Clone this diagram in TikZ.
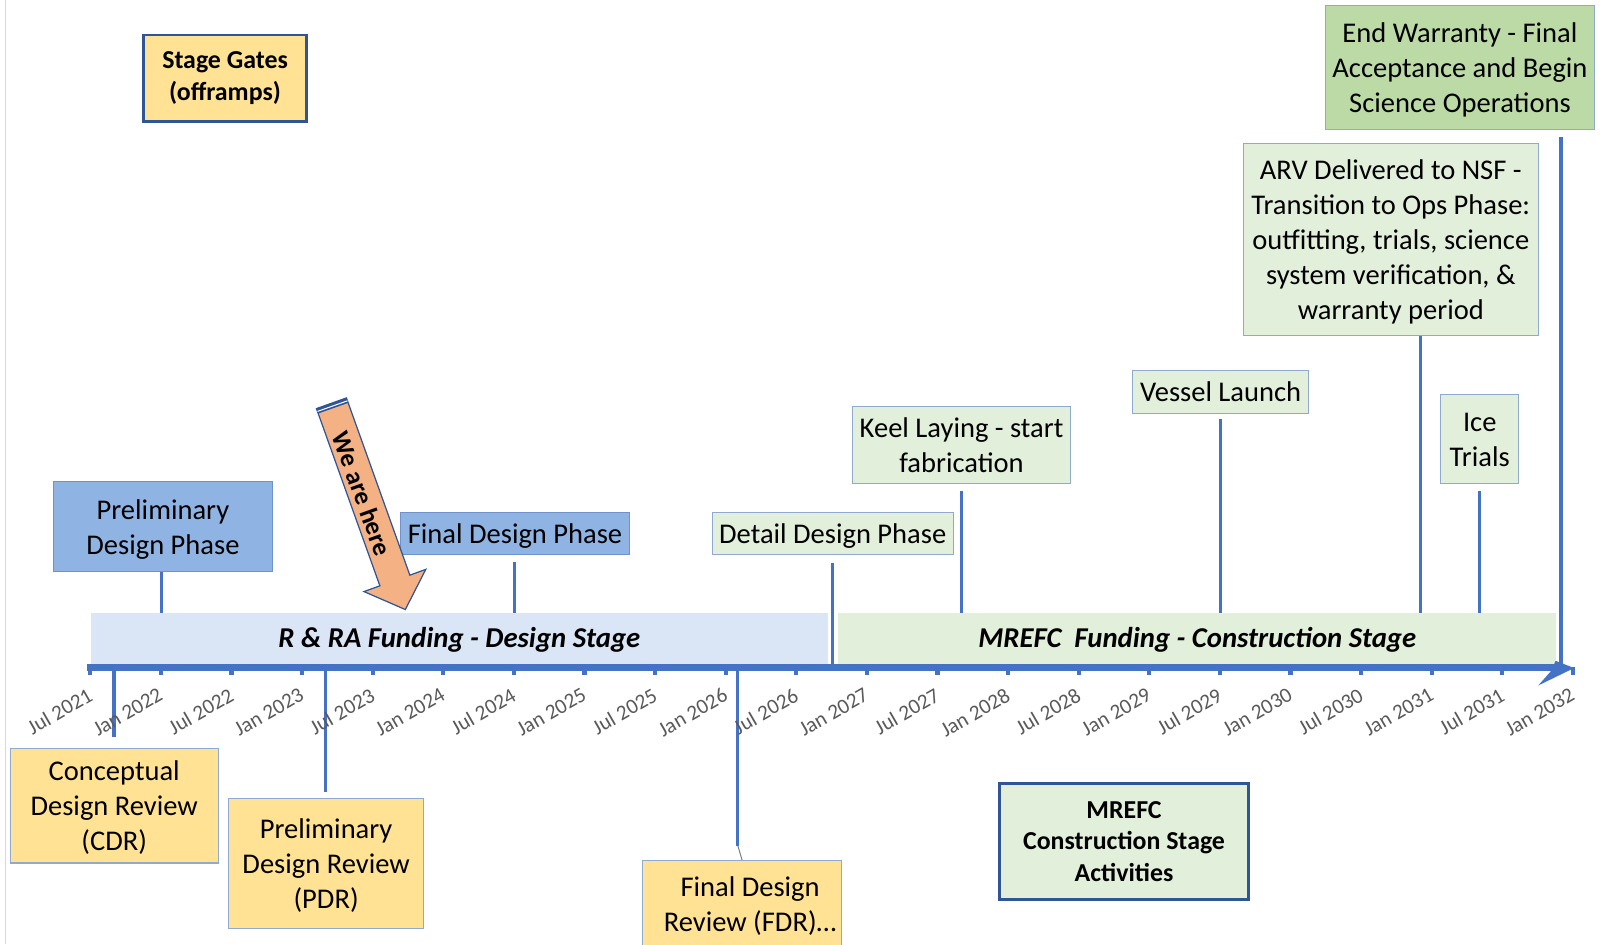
\documentclass[tikz,border=0pt]{standalone}
\usepackage{fontspec}
\setmainfont{Carlito}
\usetikzlibrary{calc}
\definecolor{axisblue}{HTML}{4472C4}
\definecolor{navy}{HTML}{2F5597}
\definecolor{yfill}{HTML}{FFE293}
\definecolor{pblue}{HTML}{8FB4E3}
\definecolor{pbord}{HTML}{6F92CF}
\definecolor{bandblue}{HTML}{DAE5F5}
\definecolor{lgreen}{HTML}{E2EFDA}
\definecolor{dgreen}{HTML}{BBDAA6}
\definecolor{peach}{HTML}{F4B183}
\definecolor{bordc}{HTML}{8FA9CF}
\definecolor{labgray}{HTML}{595959}
\definecolor{edgegray}{HTML}{D9D9D9}
\newcommand{\bxtop}{\rule{0pt}{13.4pt}}
\newcommand{\bxbot}{\rule[-3.6pt]{0pt}{0pt}}
\newcommand{\bdtop}{\rule{0pt}{12pt}}
\newcommand{\bdbot}{\rule[-3.2pt]{0pt}{0pt}}
\tikzset{
  box/.style={draw=bordc, line width=0.5pt, align=center, inner sep=0pt, text=black,
    font=\fontsize{13.9}{17}\selectfont},
  bluebox/.style={box, fill=pblue, draw=pbord},
  greenbox/.style={box, fill=lgreen},
  ybox/.style={box, fill=yfill},
  boldbox/.style={draw=navy, line width=1.3pt, font=\fontsize{12.6}{15.4}\selectfont\bfseries},
  conn/.style={draw=axisblue, line width=1.6pt},
  band/.style={inner sep=0pt, text=black, font=\fontsize{14}{17}\selectfont\bfseries\itshape},
  ticklab/.style={inner sep=0pt, rotate=30, anchor=north east, text=labgray,
    font=\fontsize{10.35}{12}\selectfont},
}
\begin{document}
\begin{tikzpicture}[x=0.5pt,y=-0.5pt]
\useasboundingbox (0,0) rectangle (1568,920);
\clip (0,0) rectangle (1568,920);
% left edge line
\coordinate (e1) at (5.5,0);
\coordinate (e2) at (5.5,920);
\draw[edgegray, line width=0.8pt] (e1) -- (e2);

% legend boxes
\node[ybox, boldbox, minimum width=79.6pt, minimum height=42.25pt] (sg) at (219.3,76.35) {Stage Gates\\(offramps)};
\node[greenbox, boldbox, minimum width=121.2pt, minimum height=56.55pt] (mr) at (1095.4,819.95) {MREFC\\Construction Stage\\Activities};

% boxes above the axis
\node[bluebox, minimum width=106.6pt, minimum height=43.8pt] (pdp) at (158.8,513.2) {\bxtop Preliminary\\Design Phase\bxbot};
\node[bluebox, minimum width=111.6pt, minimum height=20.15pt] (fdp) at (501.9,519.85) {\bxtop Final Design Phase\bxbot};
\node[greenbox, minimum width=117.5pt, minimum height=20.15pt] (ddp) at (811.5,519.85) {\bxtop Detail Design Phase\bxbot};
\node[greenbox, minimum width=106pt, minimum height=37.3pt] (keel) at (937,433.7) {\bxtop Keel Laying - start\\fabrication\bxbot};
\node[greenbox, minimum width=85.5pt, minimum height=20.9pt] (vl) at (1189.5,381.9) {\bxtop Vessel Launch\bxbot};
\node[greenbox, minimum width=38pt, minimum height=43.5pt] (ice) at (1442,427.5) {\bxtop Ice\\Trials\bxbot};
\node[greenbox, minimum width=143.65pt, minimum height=93.4pt] (arv) at (1355.35,233.1) {\bxtop ARV Delivered to NSF -\\Transition to Ops Phase:\\outfitting, trials, science\\system verification, \&\\warranty period\bxbot};
\node[box, fill=dgreen, minimum width=130.75pt, minimum height=60.55pt] (ew) at (1422.75,65.45) {\bxtop End Warranty - Final\\Acceptance and Begin\\Science Operations\bxbot};

% boxes below the axis
\node[ybox, minimum width=101.3pt, minimum height=56pt] (cdr) at (111.3,785) {\bxtop Conceptual\\Design Review\\(CDR)\bxbot};
\node[ybox, minimum width=95.1pt, minimum height=63.35pt] (pdr) at (317.8,841.35) {\bxtop Preliminary\\Design Review\\(PDR)\bxbot};
\node[ybox, minimum width=96.6pt, minimum height=45.75pt] (fdr) at (723.1,884.25) {};
\node[inner sep=0pt, align=center, text=black, font=\fontsize{13.9}{17}\selectfont] (fdrt) at (731,883) {Final Design\\Review (FDR)…};

% axis coordinates
\coordinate (a-pdp) at (157.5,650.5);
\coordinate (a-fdp) at (501.2,650.5);
\coordinate (a-ddp) at (811,650.5);
\coordinate (a-keel) at (937,650.5);
\coordinate (a-vl) at (1189.5,650.5);
\coordinate (a-ice) at (1441.5,650.5);
\coordinate (a-arv) at (1384.5,650.5);
\coordinate (a-ew) at (1521.5,648);
\coordinate (a-cdr) at (111,650.5);
\coordinate (a-pdr) at (317,650.5);
\coordinate (a-fdr) at (719,650.5);
\coordinate (fdrbend) at (719,824);

% connectors
\draw[conn] (pdp.south -| a-pdp) -- (a-pdp);
\draw[conn, shorten <=3.75pt] (fdp.south -| a-fdp) -- (a-fdp);
\draw[conn, shorten <=4pt] (ddp.south -| a-ddp) -- (a-ddp);
\draw[conn, shorten <=3.5pt] (keel.south -| a-keel) -- (a-keel);
\draw[conn, shorten <=2.6pt] (vl.south -| a-vl) -- (a-vl);
\draw[conn, shorten <=3.5pt] (ice.south -| a-ice) -- (a-ice);
\draw[conn] (arv.south -| a-arv) -- (a-arv);
\draw[conn, line width=2pt, shorten <=3.5pt] (ew.south -| a-ew) -- (a-ew);
\draw[conn, shorten >=5pt] (a-cdr) -- (cdr.north -| a-cdr);
\draw[conn, shorten >=3pt] (a-pdr) -- (pdr.north -| a-pdr);
\draw[conn] (a-fdr) -- (fdrbend);
\draw[gray, line width=0.5pt] (fdrbend) -- (fdr.north);

% funding bands
\node[band, fill=bandblue, minimum width=359.35pt, minimum height=24.7pt] (dband) at (447.65,622.3) {\bdtop R \& RA Funding - Design Stage\bdbot};
\node[band, fill=lgreen, minimum width=349.75pt, minimum height=24.7pt] (cband) at (1166.75,622.3) {\bdtop MREFC\ \ Funding - Construction Stage\bdbot};

% axis
\coordinate (axs) at (85,650.5);
\coordinate (axe) at (1517,650.5);
\draw[axisblue, line width=3pt] (axs) -- (axe);
\fill[axisblue] (1516,644) -- (1534,651) -- (1499,668) -- (1511,654.5) -- cycle;

% ticks and labels
\foreach \k/\lab in {0/Jul 2021, 1/Jan 2022, 2/Jul 2022, 3/Jan 2023, 4/Jul 2023, 5/Jan 2024,
  6/Jul 2024, 7/Jan 2025, 8/Jul 2025, 9/Jan 2026, 10/Jul 2026, 11/Jan 2027, 12/Jul 2027,
  13/Jan 2028, 14/Jul 2028, 15/Jan 2029, 16/Jul 2029, 17/Jan 2030, 18/Jul 2030,
  19/Jan 2031, 20/Jul 2031, 21/Jan 2032}{
  \draw[axisblue, line width=2pt] ({88+68.8*\k},650) -- ({88+68.8*\k},657.5);
  \node[ticklab] (tl\k) at ({84.5+68.8*\k},669) {\lab};
}

% "We are here" arrow
\filldraw[fill=peach, draw=navy, line width=0.6pt]
  (308.4,398.2) -- (337.6,387.8) -- (399.4,560.5) -- (414.9,554.9) -- (395,594)
  -- (354.7,576.5) -- (370.2,570.9) -- cycle;
\draw[navy, line width=2.5pt] (309.3,400.6) -- (338.5,390.3);
\draw[white, line width=0.5pt] (309.4,400.9) -- (338.6,390.6);
\node[inner sep=0pt, rotate=-70.3, text=black, font=\fontsize{12.5}{15}\selectfont\bfseries] (here) at (353,481) {We are here};
\end{tikzpicture}
\end{document}
